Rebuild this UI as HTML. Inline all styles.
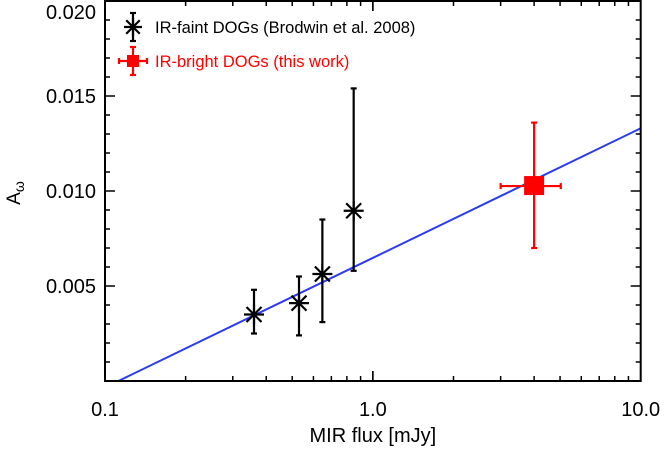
<!DOCTYPE html>
<html><head><meta charset="utf-8"><style>
body{margin:0;background:#fff}
svg text{font-family:"Liberation Sans",sans-serif}
</style></head><body>
<svg id="c" width="664" height="447" xmlns="http://www.w3.org/2000/svg"></svg>
<script>
const faintX=[0.36,0.53,0.648,0.848];
const faintY=[0.0035,0.0041,0.00563,0.00896];
const faintLo=[0.0025,0.0024,0.0031,0.0058];
const faintHi=[0.0048,0.0055,0.0085,0.0154];
const brightX=[4.0];
const brightY=[0.01026];
const brightXLo=[3.0];
const brightXHi=[5.03];
const brightLo=[0.0070];
const brightHi=[0.0136];
const fitA=0.00648, fitB=0.00682;
const yTicks=[0.005,0.010,0.015,0.020];
const yTickLabels=["0.005","0.010","0.015","0.020"];
const xTicks=[0.1,1,10];
const xTickLabels=["0.1","1.0","10.0"];

const L=105,R=640.7,T=1,B=381;
const sx=v=>L+(Math.log10(v)+1)/2*(R-L);
const sy=v=>B-v/0.020*(B-T);
const svg=document.getElementById('c');
const NS="http://www.w3.org/2000/svg";
function mk(t,a,p){const e=document.createElementNS(NS,t);for(const k in a)e.setAttribute(k,a[k]);(p||svg).appendChild(e);return e;}

const x0=Math.pow(10,-fitA/fitB);
const fl=mk('line',{x1:sx(x0),y1:sy(0),x2:sx(10),y2:sy(fitA+fitB),stroke:'#2a3cf0','stroke-width':2});



const fr=mk('rect',{x:L,y:T,width:R-L,height:B-T,fill:'none',stroke:'#000','stroke-width':2});



for(let d=-1;d<1;d++){for(let m=1;m<=10;m++){const v=m*Math.pow(10,d);const x=sx(v);const len=(m==1||m==10)?10:5;
mk('line',{x1:x,y1:B,x2:x,y2:B-len,stroke:'#000','stroke-width':1.5});
mk('line',{x1:x,y1:T,x2:x,y2:T+len,stroke:'#000','stroke-width':1.5});}}
xTicks.forEach((v,i)=>{const t=mk('text',{x:sx(v),y:416,'text-anchor':'middle','font-size':20});t.textContent=xTickLabels[i];

});
for(let k=1;k<20;k++){const v=k*0.001;const y=sy(v);const len=(k%5==0)?10:5;
mk('line',{x1:L,y1:y,x2:L+len,y2:y,stroke:'#000','stroke-width':1.5});
mk('line',{x1:R,y1:y,x2:R-len,y2:y,stroke:'#000','stroke-width':1.5});}
yTicks.forEach((v,i)=>{const y=Math.max(sy(v)+7,19);const t=mk('text',{x:96,y:y,'text-anchor':'end','font-size':20});t.textContent=yTickLabels[i];

});

const xt=mk('text',{x:(L+R)/2,y:442,'text-anchor':'middle','font-size':20});xt.textContent='MIR flux [mJy]';


const yt=mk('text',{x:0,y:0,'text-anchor':'middle','font-size':19,transform:'translate(20,193) rotate(-90)'});
yt.innerHTML='A<tspan font-size="14" dy="4">ω</tspan>';



function star(cx,cy,r,g){
  mk('line',{x1:cx-r,y1:cy,x2:cx+r,y2:cy,stroke:'#000','stroke-width':2.2},g);
  mk('line',{x1:cx,y1:cy-r,x2:cx,y2:cy+r,stroke:'#000','stroke-width':2.2},g);
  const d=r*0.75;
  mk('line',{x1:cx-d,y1:cy-d,x2:cx+d,y2:cy+d,stroke:'#000','stroke-width':2.2},g);
  mk('line',{x1:cx-d,y1:cy+d,x2:cx+d,y2:cy-d,stroke:'#000','stroke-width':2.2},g);
}
function vbar(x,y1,y2,c,g){mk('line',{x1:x,y1:y1,x2:x,y2:y2,stroke:c,'stroke-width':2.2},g);
 mk('line',{x1:x-3,y1:y1,x2:x+3,y2:y1,stroke:c,'stroke-width':2.2},g);
 mk('line',{x1:x-3,y1:y2,x2:x+3,y2:y2,stroke:c,'stroke-width':2.2},g);}
function hbar(y,x1,x2,c,g){mk('line',{x1:x1,y1:y,x2:x2,y2:y,stroke:c,'stroke-width':2.2},g);
 mk('line',{x1:x1,y1:y-3,x2:x1,y2:y+3,stroke:c,'stroke-width':2.2},g);
 mk('line',{x1:x2,y1:y-3,x2:x2,y2:y+3,stroke:c,'stroke-width':2.2},g);}

faintX.forEach((v,i)=>{const g=mk('g',{});


const x=sx(v);vbar(x,sy(faintHi[i]),sy(faintLo[i]),'#000',g);star(x,sy(faintY[i]),10,g);});
brightX.forEach((v,i)=>{const g=mk('g',{});


const x=sx(v),y=sy(brightY[i]);vbar(x,sy(brightHi[i]),sy(brightLo[i]),'#f00',g);hbar(y,sx(brightXLo[i]),sx(brightXHi[i]),'#f00',g);
mk('rect',{x:x-10,y:y-10,width:20,height:19,fill:'#f00'},g);});

const lg=mk('g',{});


vbar(133,13,41,'#000',lg);star(133,27,9,lg);
let t1=mk('text',{x:155,y:33,'font-size':16.5},lg);t1.textContent='IR-faint DOGs (Brodwin et al. 2008)';
vbar(133,47,75,'#f00',lg);hbar(61,119,147,'#f00',lg);mk('rect',{x:127,y:55,width:12,height:12,fill:'#f00'},lg);
let t2=mk('text',{x:155,y:67,'font-size':16.5,fill:'#f00'},lg);t2.textContent='IR-bright DOGs (this work)';
</script>
</body></html>
